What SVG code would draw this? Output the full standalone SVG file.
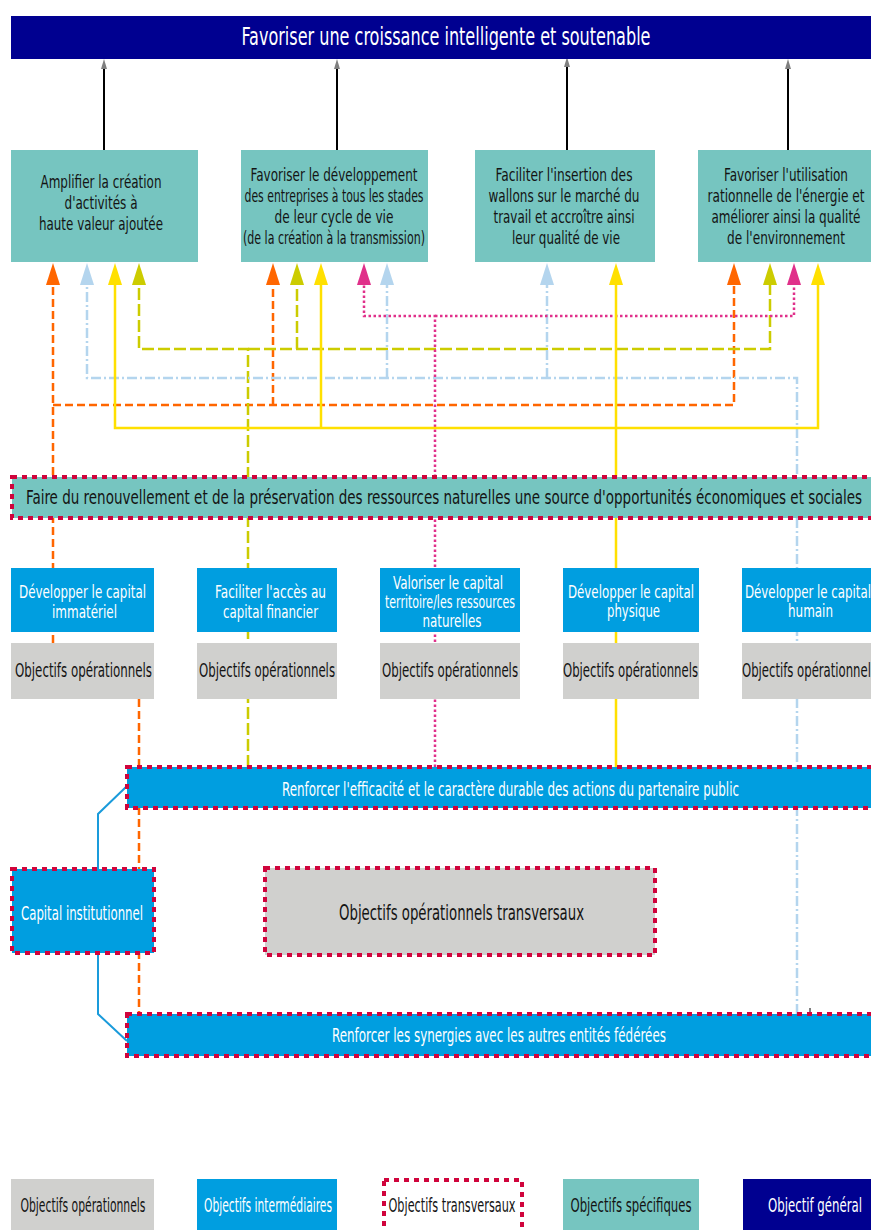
<svg xmlns="http://www.w3.org/2000/svg" width="871" height="1230" viewBox="0 0 871 1230">
<style>
.t{font-family:"Liberation Sans Narrow","DejaVu Sans Condensed","Liberation Sans",sans-serif;text-anchor:middle}
.dk{fill:#141414}
.wh{fill:#ffffff}
.gen{fill:#000090}
.spec{fill:#76C5C0}
.inter{fill:#009EE0}
.op{fill:#D0D0CE}
.tr{stroke:#D0043C;stroke-width:4;stroke-dasharray:5 5}
.or{stroke:#FF6600;stroke-width:2.5;stroke-dasharray:8 4;fill:none}
.yg{stroke:#CCCC00;stroke-width:2.5;stroke-dasharray:12 4;fill:none}
.lb{stroke:#B4D5EE;stroke-width:2.5;stroke-dasharray:10 3 2 3;fill:none}
.mg{stroke:#E0308A;stroke-width:2.5;stroke-dasharray:2.5 2.5;fill:none}
.ye{stroke:#FFE000;stroke-width:2.5;fill:none}
.bk{stroke:#000;stroke-width:2;fill:none}
.bl{stroke:#1A9BDB;stroke-width:2;fill:none}
</style>
<defs>
<marker id="aOr" markerUnits="userSpaceOnUse" markerWidth="24" markerHeight="16" viewBox="0 -8 24 16" refX="0" refY="0" orient="auto"><path d="M0,-7 L22,0 L0,7 z" fill="#FF6600"/></marker>
<marker id="aYg" markerUnits="userSpaceOnUse" markerWidth="24" markerHeight="16" viewBox="0 -8 24 16" refX="0" refY="0" orient="auto"><path d="M0,-7 L22,0 L0,7 z" fill="#CCCC00"/></marker>
<marker id="aLb" markerUnits="userSpaceOnUse" markerWidth="24" markerHeight="16" viewBox="0 -8 24 16" refX="0" refY="0" orient="auto"><path d="M0,-7 L22,0 L0,7 z" fill="#B4D5EE"/></marker>
<marker id="aMg" markerUnits="userSpaceOnUse" markerWidth="24" markerHeight="16" viewBox="0 -8 24 16" refX="0" refY="0" orient="auto"><path d="M0,-7 L22,0 L0,7 z" fill="#E0308A"/></marker>
<marker id="aYe" markerUnits="userSpaceOnUse" markerWidth="24" markerHeight="16" viewBox="0 -8 24 16" refX="0" refY="0" orient="auto"><path d="M0,-7 L22,0 L0,7 z" fill="#FFE000"/></marker>
<marker id="aBk" markerUnits="userSpaceOnUse" markerWidth="12" markerHeight="8" viewBox="0 -4 12 8" refX="0" refY="0" orient="auto"><path d="M0,-3 L10,0 L0,3 z" fill="#808080"/></marker>
</defs>
<rect width="871" height="1230" fill="#fff"/>

<g id="connectors">
  <path class="bk" d="M104,150 V69" marker-end="url(#aBk)"/>
  <path class="bk" d="M337,150 V69" marker-end="url(#aBk)"/>
  <path class="bk" d="M567,150 V67" marker-end="url(#aBk)"/>
  <path class="bk" d="M788,150 V69" marker-end="url(#aBk)"/>

  <path class="or" d="M53,643 V285" marker-end="url(#aOr)"/>
  <path class="or" d="M53,405 H734 V285" marker-end="url(#aOr)"/>
  <path class="or" d="M273,405 V285" marker-end="url(#aOr)"/>
  <path class="or" d="M139,699 V1014"/>

  <path class="yg" d="M248,767 V349 H139 V285" marker-end="url(#aYg)"/>
  <path class="yg" d="M248,349 H770 V285" marker-end="url(#aYg)"/>
  <path class="yg" d="M297,349 V285" marker-end="url(#aYg)"/>

  <path class="lb" d="M797,1014 V378 H87 V285" marker-end="url(#aLb)"/>
  <path class="lb" d="M387,378 V285" marker-end="url(#aLb)"/>
  <path class="lb" d="M547,378 V285" marker-end="url(#aLb)"/>

  <path class="mg" d="M435,767 V316 H364 V285" marker-end="url(#aMg)"/>
  <path class="mg" d="M435,316 H794 V285" marker-end="url(#aMg)"/>

  <path class="ye" d="M616,767 V285" marker-end="url(#aYe)"/>
  <path class="ye" d="M616,428 H115 V285" marker-end="url(#aYe)"/>
  <path class="ye" d="M616,428 H818 V285" marker-end="url(#aYe)"/>
  <path class="ye" d="M321,428 V285" marker-end="url(#aYe)"/>

  <path class="bl" d="M98,869 V814 L127,786"/>
  <path class="bl" d="M98,953 V1014 L127,1041"/>
  <line x1="810" y1="1008" x2="810" y2="1012" stroke="#000" stroke-width="1"/>
</g>

<g id="general">
  <rect class="gen" x="11" y="16" width="870" height="43"/>
  <text class="t wh" x="446" y="45" font-size="24" textLength="409" lengthAdjust="spacingAndGlyphs">Favoriser une croissance intelligente et soutenable</text>
</g>

<g id="spec1">
  <rect class="spec" x="11" y="150" width="187" height="112"/>
  <text class="t dk" font-size="18"><tspan x="101" y="188" textLength="121" lengthAdjust="spacingAndGlyphs">Amplifier la création</tspan><tspan x="101" y="209" textLength="73" lengthAdjust="spacingAndGlyphs">d'activités à</tspan><tspan x="101" y="230" textLength="124" lengthAdjust="spacingAndGlyphs">haute valeur ajoutée</tspan></text>
</g>
<g id="spec2">
  <rect class="spec" x="241" y="150" width="187" height="112"/>
  <text class="t dk" font-size="18"><tspan x="334" y="181" textLength="167" lengthAdjust="spacingAndGlyphs">Favoriser le développement</tspan><tspan x="334" y="202" textLength="179" lengthAdjust="spacingAndGlyphs">des entreprises à tous les stades</tspan><tspan x="334" y="223" textLength="119" lengthAdjust="spacingAndGlyphs">de leur cycle de vie</tspan><tspan x="334" y="244" textLength="182" lengthAdjust="spacingAndGlyphs">(de la création à la transmission)</tspan></text>
</g>
<g id="spec3">
  <rect class="spec" x="475" y="150" width="180" height="112"/>
  <text class="t dk" font-size="18"><tspan x="564" y="181" textLength="137" lengthAdjust="spacingAndGlyphs">Faciliter l'insertion des</tspan><tspan x="564" y="202" textLength="151" lengthAdjust="spacingAndGlyphs">wallons sur le marché du</tspan><tspan x="564" y="223" textLength="141" lengthAdjust="spacingAndGlyphs">travail et accroître ainsi</tspan><tspan x="566" y="244" textLength="108" lengthAdjust="spacingAndGlyphs">leur qualité de vie</tspan></text>
</g>
<g id="spec4">
  <rect class="spec" x="698" y="150" width="180" height="112"/>
  <text class="t dk" font-size="18"><tspan x="786" y="181" textLength="124" lengthAdjust="spacingAndGlyphs">Favoriser l'utilisation</tspan><tspan x="786" y="202" textLength="157" lengthAdjust="spacingAndGlyphs">rationnelle de l'énergie et</tspan><tspan x="786" y="223" textLength="149" lengthAdjust="spacingAndGlyphs">améliorer ainsi la qualité</tspan><tspan x="786" y="244" textLength="118" lengthAdjust="spacingAndGlyphs">de l'environnement</tspan></text>
</g>

<g id="band">
  <rect class="spec tr" x="12" y="477" width="880" height="41"/>
  <text class="t dk" x="444" y="504" font-size="20" textLength="836" lengthAdjust="spacingAndGlyphs">Faire du renouvellement et de la préservation des ressources naturelles une source d'opportunités économiques et sociales</text>
</g>

<g id="inter1">
  <rect class="inter" x="11" y="568" width="143" height="64"/>
  <text class="t wh" font-size="18"><tspan x="82.5" y="598" textLength="127" lengthAdjust="spacingAndGlyphs">Développer le capital</tspan><tspan x="84.5" y="618" textLength="65" lengthAdjust="spacingAndGlyphs">immatériel</tspan></text>
</g>
<g id="inter2">
  <rect class="inter" x="197" y="568" width="140" height="64"/>
  <text class="t wh" font-size="18"><tspan x="270.5" y="598" textLength="111" lengthAdjust="spacingAndGlyphs">Faciliter l'accès au</tspan><tspan x="270.5" y="618" textLength="95" lengthAdjust="spacingAndGlyphs">capital financier</tspan></text>
</g>
<g id="inter3">
  <rect class="inter" x="380" y="568" width="140" height="64"/>
  <text class="t wh" font-size="17"><tspan x="448" y="589" textLength="110" lengthAdjust="spacingAndGlyphs">Valoriser le capital</tspan><tspan x="450" y="608" textLength="130" lengthAdjust="spacingAndGlyphs">territoire/les ressources</tspan><tspan x="452" y="627" textLength="59" lengthAdjust="spacingAndGlyphs">naturelles</tspan></text>
</g>
<g id="inter4">
  <rect class="inter" x="563" y="568" width="136" height="64"/>
  <text class="t wh" font-size="18"><tspan x="631" y="598" textLength="126" lengthAdjust="spacingAndGlyphs">Développer le capital</tspan><tspan x="633.5" y="617" textLength="53" lengthAdjust="spacingAndGlyphs">physique</tspan></text>
</g>
<g id="inter5">
  <rect class="inter" x="742" y="568" width="140" height="64"/>
  <text class="t wh" font-size="18"><tspan x="808" y="598" textLength="126" lengthAdjust="spacingAndGlyphs">Développer le capital</tspan><tspan x="810.5" y="617" textLength="45" lengthAdjust="spacingAndGlyphs">humain</tspan></text>
</g>

<g id="op1"><rect class="op" x="11" y="643" width="143" height="56"/><text class="t dk" x="83.5" y="677" font-size="20" textLength="137" lengthAdjust="spacingAndGlyphs">Objectifs opérationnels</text></g>
<g id="op2"><rect class="op" x="197" y="643" width="140" height="56"/><text class="t dk" x="267" y="677" font-size="20" textLength="136" lengthAdjust="spacingAndGlyphs">Objectifs opérationnels</text></g>
<g id="op3"><rect class="op" x="380" y="643" width="140" height="56"/><text class="t dk" x="450" y="677" font-size="20" textLength="136" lengthAdjust="spacingAndGlyphs">Objectifs opérationnels</text></g>
<g id="op4"><rect class="op" x="563" y="643" width="136" height="56"/><text class="t dk" x="630.5" y="677" font-size="20" textLength="135" lengthAdjust="spacingAndGlyphs">Objectifs opérationnels</text></g>
<g id="op5"><rect class="op" x="742" y="643" width="140" height="56"/><text class="t dk" x="809.5" y="677" font-size="20" textLength="135" lengthAdjust="spacingAndGlyphs">Objectifs opérationnels</text></g>

<g id="efficacite">
  <rect class="inter tr" x="127" y="767" width="760" height="41"/>
  <text class="t wh" x="510.5" y="796" font-size="19" textLength="457" lengthAdjust="spacingAndGlyphs">Renforcer l'efficacité et le caractère durable des actions du partenaire public</text>
</g>
<g id="capinst">
  <rect class="inter tr" x="12" y="869" width="142" height="84"/>
  <text class="t wh" x="82" y="920" font-size="20" textLength="122" lengthAdjust="spacingAndGlyphs">Capital institutionnel</text>
</g>
<g id="transversaux">
  <rect class="op tr" x="265" y="868" width="390" height="87"/>
  <text class="t dk" x="461.5" y="920" font-size="21" textLength="245" lengthAdjust="spacingAndGlyphs">Objectifs opérationnels transversaux</text>
</g>
<g id="synergies">
  <rect class="inter tr" x="127" y="1014" width="760" height="42"/>
  <text class="t wh" x="499" y="1042" font-size="19" textLength="334" lengthAdjust="spacingAndGlyphs">Renforcer les synergies avec les autres entités fédérées</text>
</g>

<g id="legend">
  <g id="leg-op"><rect class="op" x="11" y="1179" width="143" height="52"/><text class="t dk" x="83" y="1212" font-size="19" textLength="125" lengthAdjust="spacingAndGlyphs">Objectifs opérationnels</text></g>
  <g id="leg-inter"><rect class="inter" x="197" y="1179" width="140" height="52"/><text class="t wh" x="268" y="1212" font-size="19" textLength="128" lengthAdjust="spacingAndGlyphs">Objectifs intermédiaires</text></g>
  <g id="leg-tr"><rect class="tr" fill="#fff" x="384" y="1180" width="138" height="60"/><text class="t dk" x="452" y="1212" font-size="19" textLength="127" lengthAdjust="spacingAndGlyphs">Objectifs transversaux</text></g>
  <g id="leg-spec"><rect class="spec" x="563" y="1179" width="136" height="52"/><text class="t dk" x="631" y="1212" font-size="19" textLength="121" lengthAdjust="spacingAndGlyphs">Objectifs spécifiques</text></g>
  <g id="leg-gen"><rect class="gen" x="743" y="1179" width="140" height="52"/><text class="t wh" x="815" y="1212" font-size="19" textLength="94" lengthAdjust="spacingAndGlyphs">Objectif général</text></g>
</g>
</svg>
